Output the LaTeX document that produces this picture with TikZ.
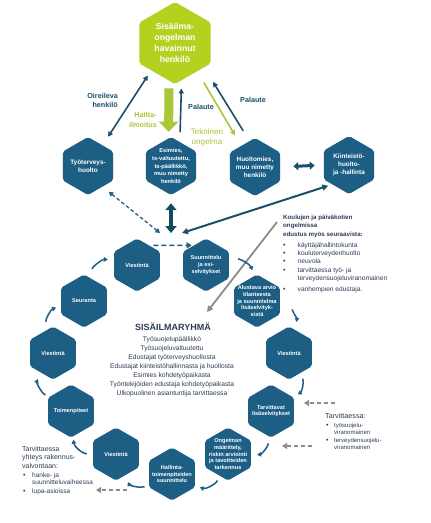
\documentclass[tikz,border=0pt]{standalone}
\usepackage{fontspec}
\setmainfont{Liberation Sans}
\usetikzlibrary{shapes.geometric,arrows.meta}

\definecolor{hexblue}{HTML}{1C5E84}
\definecolor{limegreen}{HTML}{B3D21F}
\definecolor{arrowgreen}{HTML}{A8C83A}
\definecolor{darkarrow}{HTML}{1B4F6B}
\definecolor{deepteal}{HTML}{0F4C5E}
\definecolor{txtdark}{HTML}{2E3B57}
\definecolor{grayarrow}{HTML}{8C8C8C}

\newcommand{\bitem}[1][14.5pt]{\makebox[#1][l]{{\fontsize{7}{7}\selectfont\textbullet}}}

\tikzset{
	hexbase/.style={regular polygon, regular polygon sides=6, shape border rotate=30, inner sep=0pt, rounded corners=2pt},
	hexcyc/.style={hexbase, fill=hexblue, minimum size=53pt},
	hextop/.style={hexbase, fill=hexblue, minimum size=58pt},
	hexgreen/.style={hexbase, fill=limegreen, minimum size=82pt},
	cyctxt/.style={text=white, align=center, font=\bfseries\fontsize{5.6}{6.9}\selectfont},
	toptxt/.style={text=white, align=center, font=\bfseries\fontsize{6.4}{7.9}\selectfont},
	lbl/.style={text=darkarrow, inner sep=0pt, font=\bfseries\fontsize{7.2}{8.4}\selectfont},
	body/.style={text=txtdark, inner sep=0pt, font=\fontsize{6.7}{9}\selectfont},
	dkarrow/.style={draw=darkarrow, line width=1.6pt, -{Triangle[length=5pt,width=5pt]}},
	gnarrow/.style={draw=arrowgreen, line width=1.6pt, -{Triangle[length=5pt,width=5pt]}},
	cyc/.style={draw=hexblue, line width=1.5pt, -{Triangle[length=4pt,width=4.5pt]}},
	grdash/.style={draw=grayarrow, line width=1.8pt, dash pattern=on 4pt off 3pt, -{Triangle[length=5pt,width=6pt]}}
}

\begin{document}
\begin{tikzpicture}[x=1pt,y=-1pt]
	\useasboundingbox (0,0) rectangle (431,523);
	\fill[white] (0,0) rectangle (431,523);

	% hexagons
	\node[hexgreen, label={[text=white, align=center, font=\bfseries\fontsize{8.7}{11}\selectfont]center:Sisäilma-\\ongelman\\havainnut\\henkilö}] (top) at (175,43) {};
	\node[hextop, label={[toptxt]center:Työterveys-\\huolto}] (tth) at (88,166) {};
	\node[hextop, label={[toptxt, font=\bfseries\fontsize{5.7}{7.7}\selectfont]center:{Esimies,\\ts-valtuutettu,\\ts-päällikkö,\\muu nimetty\\henkilö}}] (esi) at (171,166) {};
	\node[hextop, label={[toptxt]center:{Huoltomies,\\muu nimetty\\henkilö}}] (huo) at (255,167) {};
	\node[hextop, label={[toptxt]center:Kiinteistö-\\huolto-\\ja -hallinta}] (kiin) at (349,165) {};

	\node[hexcyc, label={[cyctxt]center:{Suunnittelu\\ja esi-\\selvitykset}}] (ss) at (206,265) {};
	\node[hexcyc, label={[cyctxt]center:{Alustava arvio\\tilanteesta\\ja suunnitelma\\lisäselvityk-\\sistä}}] (al) at (257,301) {};
	\node[hexcyc, label={[cyctxt]center:Viestintä}] (v2) at (289,353) {};
	\node[hexcyc, label={[cyctxt]center:{Tarvittavat\\lisäselvitykset}}] (tl) at (271,411) {};
	\node[hexcyc, label={[cyctxt]center:{Ongelman\\määrittely,\\riskin arviointi\\ja tavoitteiden\\tarkennus}}] (om) at (228,454) {};
	\node[hexcyc, label={[cyctxt]center:{Hallinta-\\toimenpiteiden\\suunnittelu}}] (ht) at (172,474) {};
	\node[hexcyc, label={[cyctxt]center:Viestintä}] (v3) at (116,454) {};
	\node[hexcyc, label={[cyctxt]center:Toimenpiteet}] (tp) at (71,411) {};
	\node[hexcyc, label={[cyctxt]center:Viestintä}] (v4) at (53,353) {};
	\node[hexcyc, label={[cyctxt]center:Seuranta}] (se) at (84,301) {};
	\node[hexcyc, label={[cyctxt]center:Viestintä}] (v1) at (137,265) {};

	% arrows at the top
	\draw[dkarrow, {Triangle[length=5pt,width=5pt]}-{Triangle[length=5pt,width=5pt]}, shorten <=10pt, shorten >=6pt] (tth.55) -- (top.229);
	\draw[draw=arrowgreen, line width=9pt, -{Triangle[length=10pt,width=19pt]}, shorten <=7.5pt, shorten >=6.4pt] (top.261) -- (esi.95);
	\draw[dkarrow, shorten <=9.6pt, shorten >=8pt] (esi.70) -- (top.280);
	\draw[gnarrow, shorten <=13pt, shorten >=12pt] (top.308) -- (huo.123);
	\draw[dkarrow, shorten <=12pt, shorten >=17pt] (huo.102) -- (top.320);
	\draw[dkarrow, line width=3pt, {Triangle[length=5pt,width=8pt]}-{Triangle[length=5pt,width=8pt]}, shorten <=13pt, shorten >=9pt] (huo.0) -- (kiin.180);

	\node[lbl, align=right, anchor=north east] (oir) at (118,93.5) {Oireileva\\henkilö};
	\node[lbl, anchor=base west] (pal1) at (188,109.5) {Palaute};
	\node[lbl, anchor=base west] (pal2) at (240,102.5) {Palaute};
	\node[lbl, text=arrowgreen, align=right, anchor=north east, font=\bfseries\fontsize{7.2}{10}\selectfont] (haitta) at (157,112) {Haitta-\\ilmoitus};
	\node[text=arrowgreen, inner sep=0pt, align=center, anchor=north, font=\fontsize{8}{9.5}\selectfont] (tekn) at (207,128.5) {Tekninen\\ongelma};

	% towards the group
	\coordinate (ryh-w) at (160,233);
	\coordinate (ryh-n) at (171,233);
	\coordinate (ryh-e) at (182,233);
	\draw[draw=hexblue, line width=1.3pt, dash pattern=on 3.5pt off 2.5pt, {Triangle[length=4.5pt,width=5pt]}-{Triangle[length=4.5pt,width=5pt]}, shorten <=8pt] (tth.305) -- (ryh-w);
	\draw[draw=deepteal, line width=4.5pt, {Triangle[length=7pt,width=11pt]}-{Triangle[length=7pt,width=11pt]}, shorten <=8pt] (esi.270) -- (ryh-n);
	\draw[dkarrow, line width=2pt, {Triangle[length=6pt,width=6pt]}-{Triangle[length=6pt,width=6pt]}, shorten >=4pt] (ryh-e) -- (kiin.229);
	\draw[draw=hexblue, line width=1.6pt, dash pattern=on 5pt off 3pt, -{Triangle[length=5pt,width=6pt]}, shorten <=4pt, shorten >=2pt] (v1.58) -- (ss.122);

	\coordinate (koulu-arr) at (277,222);
	\coordinate (ryh-arr) at (207,312);
	\draw[draw=grayarrow, line width=1.8pt, -{Triangle[length=6pt,width=6pt]}] (koulu-arr) -- (ryh-arr);

	% cycle
	\draw[cyc, shorten <=9pt, shorten >=6pt] (ss.12) to[bend left=40] (al.97);
	\draw[cyc, shorten <=13pt, shorten >=8pt] (al.350) to[bend left=40] (v2.75);
	\draw[cyc, shorten <=6pt, shorten >=5pt] (v2.299) to[bend left=40] (tl.31);
	\draw[cyc, shorten <=7pt, shorten >=6pt] (tl.265) to[bend left=40] (om.356);
	\draw[cyc, shorten <=5pt, shorten >=5pt] (om.250) to[bend left=40] (ht.333);
	\draw[cyc, shorten <=4.5pt, shorten >=7pt] (ht.206) to[bend left=40] (v3.291);
	\draw[cyc, shorten <=6pt, shorten >=3pt] (v3.180) to[bend left=40] (tp.274);
	\draw[cyc, shorten <=4pt, shorten >=7pt] (tp.148) to[bend left=40] (v4.237);
	\draw[cyc, shorten <=8pt, shorten >=5pt] (v4.104) to[bend left=40] (se.192);
	\draw[cyc, shorten <=9pt, shorten >=6pt] (se.76) to[bend left=40] (v1.168);

	% dashed grey arrows
	\coordinate (g1s) at (335,403);
	\coordinate (g1e) at (304,403);
	\coordinate (g2s) at (312,446);
	\coordinate (g2e) at (282,446);
	\coordinate (g3s) at (127,490);
	\coordinate (g3e) at (96,490);
	\draw[grdash] (g1s) -- (g1e);
	\draw[grdash] (g2s) -- (g2e);
	\draw[grdash] (g3s) -- (g3e);

	% texts
	\node[body, font=\bfseries\fontsize{9}{11}\selectfont, anchor=base] (ryhma) at (173,330.5) {SISÄILMARYHMÄ};
	\node[body, align=center, anchor=north] (ryhmalist) at (172,336) {Työsuojelupäällikkö\\Työsuojeluvaltuutettu\\Edustajat työterveyshuollosta\\Edustajat kiinteistöhallinnasta ja huollosta\\Esimies kohdetyöpaikasta\\Työntekijöiden edustaja kohdetyöpaikasta\\Ulkopuolinen asiantuntija tarvittaessa};

	\node[body, font=\bfseries\fontsize{6.2}{8.5}\selectfont, align=left, anchor=north west] (koulu) at (283,214.5) {Koulujen ja päiväkotien\\ongelmissa\\edustus myös seuraavista:};
	\node[body, font=\fontsize{6.6}{8.2}\selectfont, align=left, anchor=north west] (koululist) at (283,242.5) {\bitem käyttäjähallintokunta\\\bitem kouluterveydenhuolto\\\bitem neuvola\\\bitem tarvittaessa työ- ja\\\hspace*{14.5pt}terveydensuojeluviranomainen\\[3pt]\bitem vanhempien edustaja.};

	\node[body, font=\fontsize{7.2}{9}\selectfont, anchor=base west] (tarv) at (325,418) {Tarvittaessa:};
	\node[body, font=\fontsize{6}{7.6}\selectfont, align=left, anchor=north west] (tarvlist) at (326,422.5) {\bitem[8pt]työsuojelu-\\\hspace*{8pt}viranomainen\\\bitem[8pt]terveydensuojelu-\\\hspace*{8pt}viranomainen};

	\node[body, font=\fontsize{7}{8.5}\selectfont, align=left, anchor=north west] (rakv) at (22,446) {Tarvittaessa\\yhteys rakennus-\\valvontaan:};
	\node[body, font=\fontsize{6.5}{7.2}\selectfont, align=left, anchor=north west] (rakvlist) at (23,472.5) {\bitem[9pt]hanke- ja\\\hspace*{9pt}suunnitteluvaiheessa\\[1.6pt]\bitem[9pt]lupa-asioissa};
\end{tikzpicture}
\end{document}
